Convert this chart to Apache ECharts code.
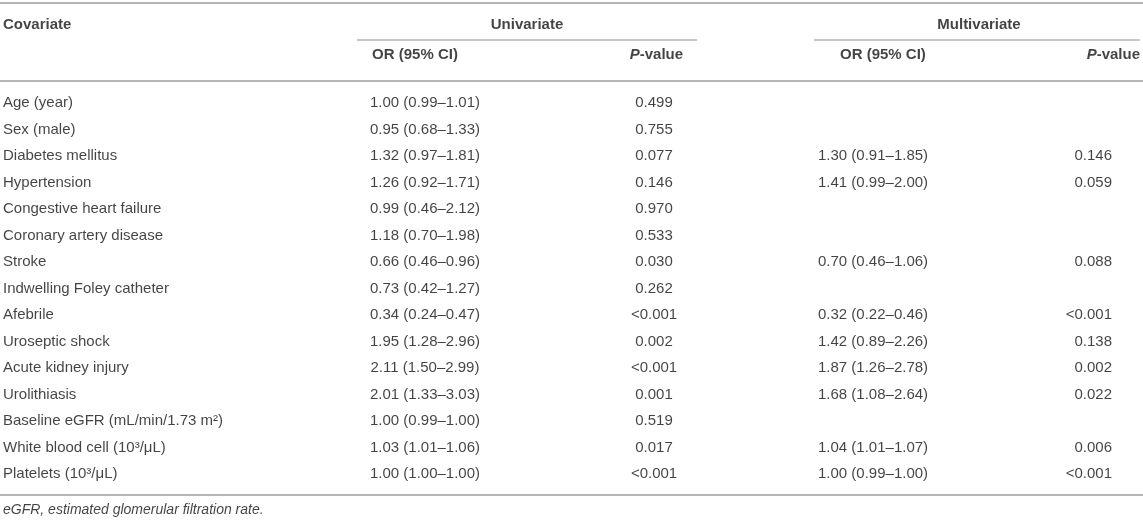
<!DOCTYPE html>
<html>
<head>
<meta charset="utf-8">
<style>
html,body{margin:0;padding:0;background:#fff;}
#main{width:1143px;height:522px;}
</style>
<script src="https://cdn.jsdelivr.net/npm/echarts@6/dist/echarts.min.js"></script>
</head>
<body>
<div id="main"></div>
<script>
// ---------- DATA ----------
const covariates = [
  'Age (year)', 'Sex (male)', 'Diabetes mellitus', 'Hypertension',
  'Congestive heart failure', 'Coronary artery disease', 'Stroke',
  'Indwelling Foley catheter', 'Afebrile', 'Uroseptic shock',
  'Acute kidney injury', 'Urolithiasis', 'Baseline eGFR (mL/min/1.73 m²)',
  'White blood cell (10³/μL)', 'Platelets (10³/μL)'
];
const uniOR = [
  '1.00 (0.99–1.01)', '0.95 (0.68–1.33)', '1.32 (0.97–1.81)', '1.26 (0.92–1.71)',
  '0.99 (0.46–2.12)', '1.18 (0.70–1.98)', '0.66 (0.46–0.96)', '0.73 (0.42–1.27)',
  '0.34 (0.24–0.47)', '1.95 (1.28–2.96)', '2.11 (1.50–2.99)', '2.01 (1.33–3.03)',
  '1.00 (0.99–1.00)', '1.03 (1.01–1.06)', '1.00 (1.00–1.00)'
];
const uniP = [
  '0.499', '0.755', '0.077', '0.146', '0.970', '0.533', '0.030', '0.262',
  '<0.001', '0.002', '<0.001', '0.001', '0.519', '0.017', '<0.001'
];
const multiOR = [
  '', '', '1.30 (0.91–1.85)', '1.41 (0.99–2.00)', '', '', '0.70 (0.46–1.06)', '',
  '0.32 (0.22–0.46)', '1.42 (0.89–2.26)', '1.87 (1.26–2.78)', '1.68 (1.08–2.64)',
  '', '1.04 (1.01–1.07)', '1.00 (0.99–1.00)'
];
const multiP = [
  '', '', '0.146', '0.059', '', '', '0.088', '',
  '<0.001', '0.138', '0.002', '0.022', '', '0.006', '<0.001'
];
const headerTop = ['Covariate', 'Univariate', 'Multivariate'];
const headerSub = ['OR (95% CI)', '{i|P}-value', 'OR (95% CI)', '{i|P}-value'];
const footnote = 'eGFR, estimated glomerular filtration rate.';

// ---------- LAYOUT (table units: x = % of width, y = row index) ----------
const X = {
  covLeft: 0.26, uniOR: 37.18, uniP: 57.22, multiOR: 76.38, multiPRight: 97.29,
  univ: 46.11, multiv: 85.65,
  subUniORLeft: 32.55, subUniPRight: 59.76, subMultiORLeft: 73.49, subMultiPRight: 99.74,
  uniLine: [31.23, 60.98], multiLine: [71.22, 99.74]
};
const Y = { head: -2.90, sub: -1.78, topRule: -3.74, span: -2.34, headRule: -0.79, bottomRule: 14.83, foot: 15.40, rowShift: 0.04 };

const FONT = '"Liberation Sans", Arial, Helvetica, sans-serif';
const TXT = '#141414';
const RULE = '#b4b4b4';

function cell(x, y, text, align, extra) {
  return {
    value: [x, y],
    label: Object.assign({ formatter: text, align: align }, extra || {})
  };
}

const cells = [];
covariates.forEach((c, i) => cells.push(cell(X.covLeft, i + Y.rowShift, c, 'left')));
uniOR.forEach((v, i) => cells.push(cell(X.uniOR, i + Y.rowShift, v, 'center')));
uniP.forEach((v, i) => cells.push(cell(X.uniP, i + Y.rowShift, v, 'center')));
multiOR.forEach((v, i) => { if (v) cells.push(cell(X.multiOR, i + Y.rowShift, v, 'center')); });
multiP.forEach((v, i) => { if (v) cells.push(cell(X.multiPRight, i + Y.rowShift, v, 'right')); });

const bold = { fontWeight: 'bold' };
const headCells = [
  cell(X.covLeft, Y.head, headerTop[0], 'left', bold),
  cell(X.univ, Y.head, headerTop[1], 'center', bold),
  cell(X.multiv, Y.head, headerTop[2], 'center', bold),
  cell(X.subUniORLeft, Y.sub, headerSub[0], 'left', bold),
  cell(X.subUniPRight, Y.sub, headerSub[1], 'right', bold),
  cell(X.subMultiORLeft, Y.sub, headerSub[2], 'left', bold),
  cell(X.subMultiPRight, Y.sub, headerSub[3], 'right', bold),
  cell(X.covLeft, Y.foot, footnote, 'left', { fontStyle: 'italic', fontSize: 14 })
];

function rule(x0, x1, y, w) {
  return {
    type: 'line', silent: true, symbol: 'none', animation: false,
    lineStyle: { color: RULE, width: w },
    data: [[x0, y], [x1, y]]
  };
}

const chart = echarts.init(document.getElementById('main'));
chart.setOption({
  animation: false,
  grid: { left: 0, right: 0, top: 0, bottom: 0 },
  xAxis: { type: 'value', min: 0, max: 100, show: false },
  yAxis: { type: 'value', inverse: true, min: -3.849, max: 15.849, show: false },
  series: [
    rule(0, 100, Y.topRule, 2),
    rule(X.uniLine[0], X.uniLine[1], Y.span, 1.5),
    rule(X.multiLine[0], X.multiLine[1], Y.span, 1.5),
    rule(0, 100, Y.headRule, 2),
    rule(0, 100, Y.bottomRule, 2),
    {
      type: 'scatter', silent: true, symbolSize: 0.01,
      itemStyle: { color: 'transparent' },
      label: {
        show: true, position: 'inside', verticalAlign: 'middle',
        fontFamily: FONT, fontSize: 15, color: TXT,
        rich: { i: { fontStyle: 'italic', fontWeight: 'bold', fontFamily: FONT, fontSize: 15, color: TXT } }
      },
      data: cells.concat(headCells)
    }
  ]
});
</script>
</body>
</html>
